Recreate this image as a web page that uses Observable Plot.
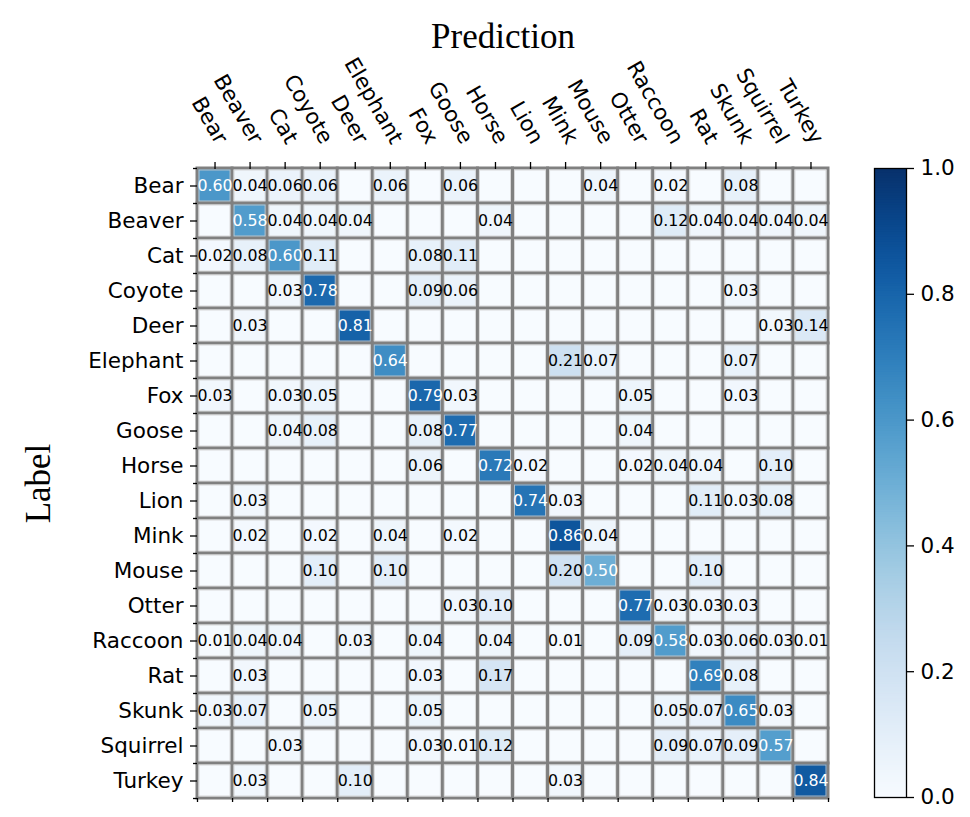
<!DOCTYPE html>
<html><head><meta charset="utf-8">
<script src="https://cdn.jsdelivr.net/npm/d3@7"></script>
<script src="https://cdn.jsdelivr.net/npm/@observablehq/plot@0.6"></script>
<style>
body{margin:0;background:#fff;}
#wrap{position:relative;width:970px;height:817px;background:#fff;overflow:hidden;}
#main{position:absolute;left:0;top:0;}
#cbar{position:absolute;left:860px;top:0;}
</style></head><body>
<div id="wrap"><div id="main"></div><div id="cbar"></div></div>
<script>
// categories (rows = true label, columns = prediction)
const classes = ["Bear","Beaver","Cat","Coyote","Deer","Elephant","Fox","Goose","Horse","Lion","Mink","Mouse","Otter","Raccoon","Rat","Skunk","Squirrel","Turkey"];
// normalized confusion matrix values, one array per label row
const values = [
  [0.60,0.04,0.06,0.06,0,0.06,0,0.06,0,0,0,0.04,0,0.02,0,0.08,0,0],
  [0,0.58,0.04,0.04,0.04,0,0,0,0.04,0,0,0,0,0.12,0.04,0.04,0.04,0.04],
  [0.02,0.08,0.60,0.11,0,0,0.08,0.11,0,0,0,0,0,0,0,0,0,0],
  [0,0,0.03,0.78,0,0,0.09,0.06,0,0,0,0,0,0,0,0.03,0,0],
  [0,0.03,0,0,0.81,0,0,0,0,0,0,0,0,0,0,0,0.03,0.14],
  [0,0,0,0,0,0.64,0,0,0,0,0.21,0.07,0,0,0,0.07,0,0],
  [0.03,0,0.03,0.05,0,0,0.79,0.03,0,0,0,0,0.05,0,0,0.03,0,0],
  [0,0,0.04,0.08,0,0,0.08,0.77,0,0,0,0,0.04,0,0,0,0,0],
  [0,0,0,0,0,0,0.06,0,0.72,0.02,0,0,0.02,0.04,0.04,0,0.10,0],
  [0,0.03,0,0,0,0,0,0,0,0.74,0.03,0,0,0,0.11,0.03,0.08,0],
  [0,0.02,0,0.02,0,0.04,0,0.02,0,0,0.86,0.04,0,0,0,0,0,0],
  [0,0,0,0.10,0,0.10,0,0,0,0,0.20,0.50,0,0,0.10,0,0,0],
  [0,0,0,0,0,0,0,0.03,0.10,0,0,0,0.77,0.03,0.03,0.03,0,0],
  [0.01,0.04,0.04,0,0.03,0,0.04,0,0.04,0,0.01,0,0.09,0.58,0.03,0.06,0.03,0.01],
  [0,0.03,0,0,0,0,0.03,0,0.17,0,0,0,0,0,0.69,0.08,0,0],
  [0.03,0.07,0,0.05,0,0,0.05,0,0,0,0,0,0,0.05,0.07,0.65,0.03,0],
  [0,0,0.03,0,0,0,0.03,0.01,0.12,0,0,0,0,0.09,0.07,0.09,0.57,0],
  [0,0.03,0,0,0.10,0,0,0,0,0,0.03,0,0,0,0,0,0,0.84]
];
const colorbarTicks = [0, 0.2, 0.4, 0.6, 0.8, 1.0];
const xTitle = "Prediction";
const yTitle = "Label";

const n = classes.length;
const cells = [];
values.forEach((row, i) => row.forEach((v, j) => cells.push({i, j, v})));
const shown = cells.filter(d => d.v > 0);
const centers = d3.range(n).map(k => k + 0.5);
const edges = d3.range(n + 1);
const tickFont = 21.5;
const cellFont = 15.8;

const main = Plot.plot({
  width: 970, height: 817,
  marginTop: 168, marginBottom: 19, marginLeft: 197, marginRight: 142,
  style: {fontFamily: "'DejaVu Sans'", color: "black", background: "transparent"},
  x: {domain: [0, n], axis: null},
  y: {domain: [0, n], reverse: true, axis: null},
  color: {type: "linear", scheme: "blues", domain: [0, 1]},
  marks: [
    Plot.rect(cells, {x1: d => d.j, x2: d => d.j + 1, y1: d => d.i, y2: d => d.i + 1, fill: d => d.v, stroke: "#808080", strokeWidth: 3}),
    Plot.rect(cells, {x1: d => d.j, x2: d => d.j + 1, y1: d => d.i, y2: d => d.i + 1, fill: "none", stroke: "#cfcfcf", strokeWidth: 1, strokeOpacity: 0.8, inset: 2}),
    Plot.text(shown.filter(d => d.v < 0.5), {x: d => d.j + 0.5, y: d => d.i + 0.5, text: d => d.v.toFixed(2), fill: "black", fontSize: cellFont}),
    Plot.text(shown.filter(d => d.v >= 0.5), {x: d => d.j + 0.5, y: d => d.i + 0.5, text: d => d.v.toFixed(2), fill: "white", fontSize: cellFont}),
    Plot.axisY({ticks: centers, anchor: "left", tickSize: 7, tickPadding: 7, tickFormat: v => classes[Math.floor(v)], fontSize: tickFont, label: null, stroke: "black", fill: "black", strokeWidth: 1.3}),
    Plot.axisY({ticks: edges, anchor: "left", tickSize: 4, fill: "none", label: null, stroke: "black", strokeWidth: 1.3}),
    Plot.axisX({ticks: centers, anchor: "top", tickSize: 7, fill: "none", label: null, stroke: "black", strokeWidth: 1.3}),
    Plot.axisX({ticks: edges, anchor: "bottom", tickSize: 4, fill: "none", label: null, stroke: "black", strokeWidth: 1.3}),
    Plot.text(classes, {x: (d, k) => k + 0.5, y: () => 0, text: d => d, rotate: 60, textAnchor: "end", lineAnchor: "bottom", dx: 1, dy: -23, fontSize: tickFont, fill: "black"}),
    Plot.text([xTitle], {frameAnchor: "top", text: d => d, textAnchor: "middle", dx: -10, dy: -121, lineAnchor: "bottom", fontSize: 35, fontFamily: "'Liberation Serif'", fill: "black"}),
    Plot.text([yTitle], {frameAnchor: "left", text: d => d, textAnchor: "middle", lineAnchor: "middle", dx: -159, rotate: -90, fontSize: 35, fontFamily: "'Liberation Serif'", fill: "black"})
  ]
});
document.getElementById("main").appendChild(main);

const N = 256;
const steps = d3.range(N).map(k => k / N);
const cbar = Plot.plot({
  width: 110, height: 817,
  marginTop: 168, marginBottom: 20, marginLeft: 14, marginRight: 64,
  style: {fontFamily: "'DejaVu Sans'", color: "black", background: "transparent"},
  x: {domain: [0, 1], axis: null},
  y: {domain: [0, 1], axis: null},
  color: {type: "linear", scheme: "blues", domain: [0, 1]},
  marks: [
    Plot.rect(steps, {x1: () => 0, x2: () => 1, y1: d => d, y2: d => Math.min(1, d + 1.6 / N), fill: d => d + 0.5 / N}),
    Plot.frame({stroke: "black", strokeWidth: 1.3}),
    Plot.axisY({ticks: colorbarTicks, anchor: "right", tickSize: 7, tickPadding: 7, tickFormat: d3.format(".1f"), fontSize: tickFont, label: null, stroke: "black", fill: "black", strokeWidth: 1.3})
  ]
});
document.getElementById("cbar").appendChild(cbar);
</script>
</body></html>
